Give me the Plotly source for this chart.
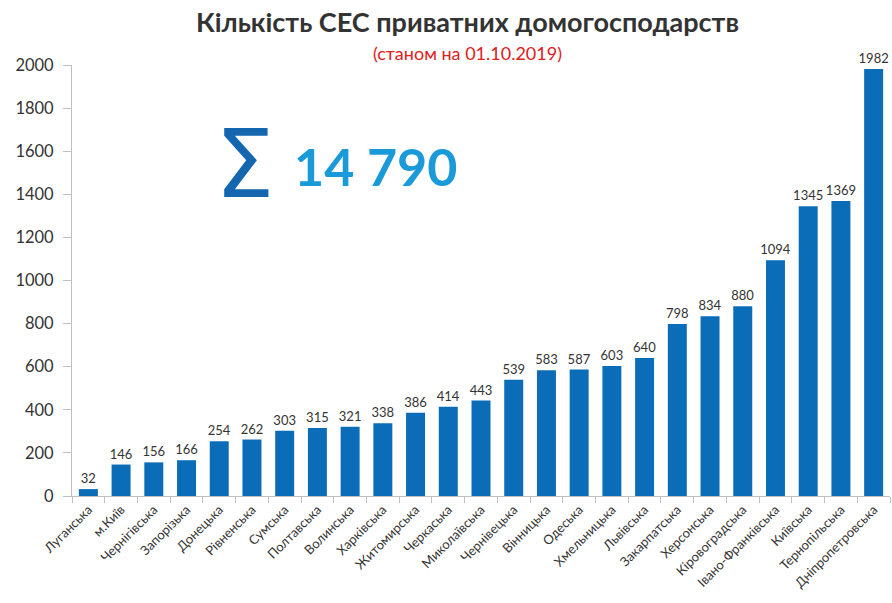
import plotly.graph_objects as go

regions = ["Луганська", "м.Київ", "Чернігівська", "Запорізька", "Донецька", "Рівненська",
           "Сумська", "Полтавська", "Волинська", "Харківська", "Житомирська", "Черкаська",
           "Миколаївська", "Чернівецька", "Вінницька", "Одеська", "Хмельницька", "Львівська",
           "Закарпатська", "Херсонська", "Кіровоградська", "Івано-Франківська", "Київська",
           "Тернопільська", "Дніпропетровська"]
counts = [32, 146, 156, 166, 254, 262, 303, 315, 321, 338, 386, 414, 443, 539, 583, 587,
          603, 640, 798, 834, 880, 1094, 1345, 1369, 1982]
total_text = "14 790"
y_ticks = [0, 200, 400, 600, 800, 1000, 1200, 1400, 1600, 1800, 2000]

FONT = "Lato"

fig = go.Figure(go.Bar(
    x=regions, y=counts, width=0.58,
    marker=dict(color="#0b6db8", line=dict(width=0)),
    text=[str(v) for v in counts], textposition="outside", cliponaxis=False,
    constraintext="none",
    textfont=dict(family=FONT, size=13, color="#333333"),
))

fig.update_layout(
    width=892, height=603, paper_bgcolor="white", plot_bgcolor="white",
    margin=dict(l=72, r=2, t=65, b=107),
    showlegend=False,
    font=dict(family=FONT, color="#333333"),
    uniformtext=dict(minsize=13, mode="show"),
)
fig.update_xaxes(
    tickangle=-45, tickfont=dict(family=FONT, size=13, color="#333333"),
    showline=True, linecolor="#bfbfbf", linewidth=1,
    ticks="outside", tickson="boundaries", ticklen=6, tickcolor="#bfbfbf",
    showgrid=False,
)
fig.update_yaxes(
    range=[0, 2000], tickvals=y_ticks, tickfont=dict(family=FONT, size=16.5, color="#333333"),
    showline=True, linecolor="#bfbfbf", linewidth=1,
    ticks="outside", ticklen=8, tickcolor="#bfbfbf", ticklabelstandoff=6,
    showgrid=False, zeroline=False,
)

fig.add_annotation(text="<b>Кількість СЕС приватних домогосподарств</b>",
                   xref="paper", yref="paper", x=0.483, y=1.10, yanchor="middle",
                   showarrow=False, font=dict(family=FONT, size=27, color="#333333"))
fig.add_annotation(text="(станом на 01.10.2019)", xref="paper", yref="paper",
                   x=0.483, y=1.028, yanchor="middle", showarrow=False,
                   font=dict(family=FONT, size=18, color="#e0201c"))
fig.add_annotation(text="Σ", xref="x", yref="y", x=4.78, y=1540, showarrow=False,
                   font=dict(family="DejaVu Sans", size=94, color="#1467ae"))
fig.add_annotation(text="<b>" + total_text + "</b>", xref="x", yref="y", x=8.78, y=1530,
                   showarrow=False, font=dict(family=FONT, size=52, color="#1a9ad8"))

fig.write_html("out.html")
